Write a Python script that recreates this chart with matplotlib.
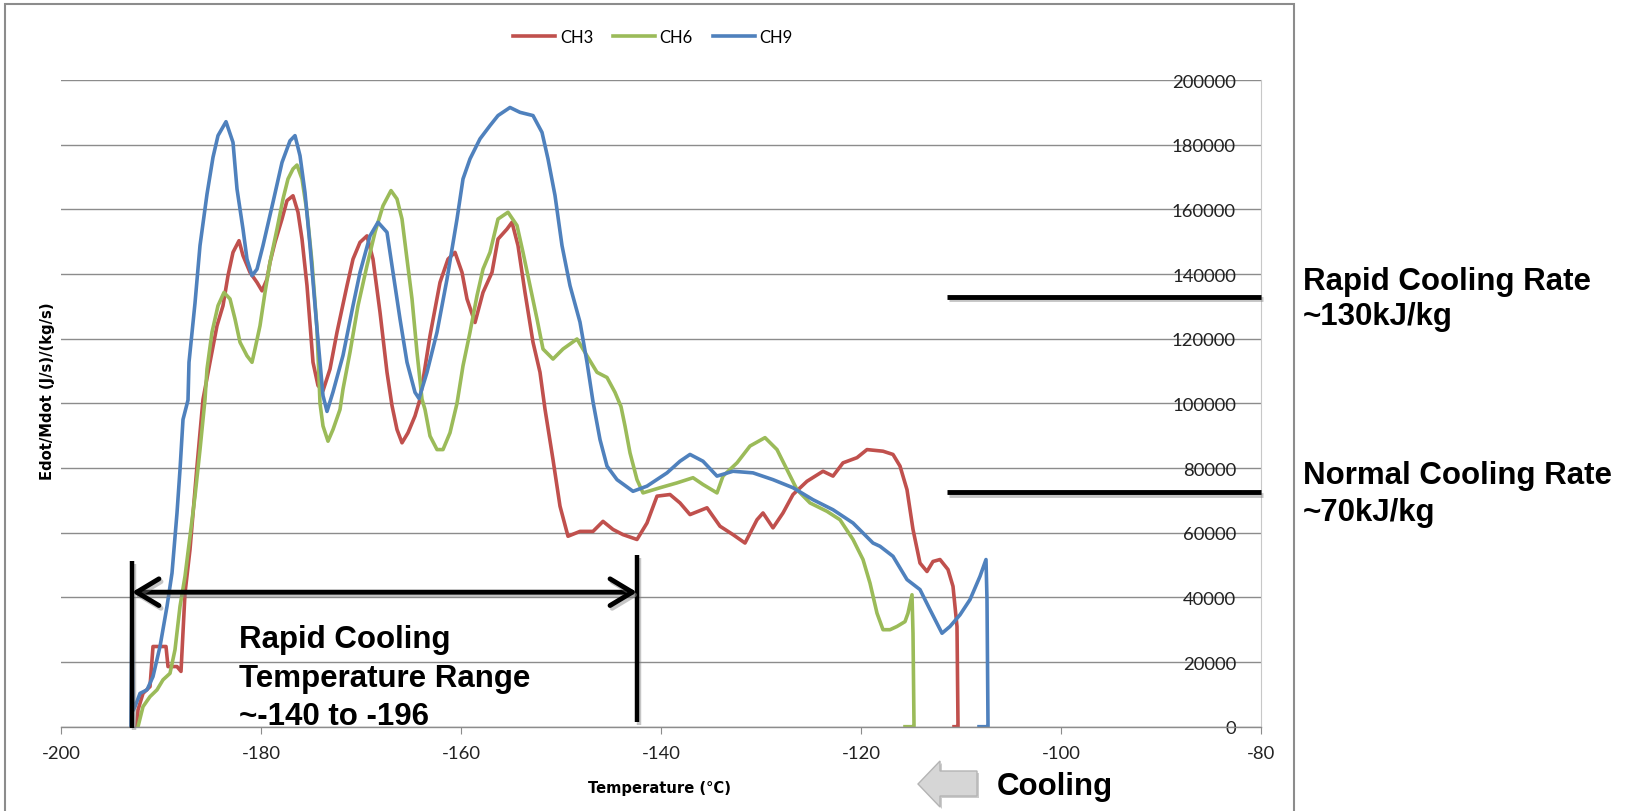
import matplotlib
matplotlib.use("Agg")
import matplotlib.pyplot as plt
from matplotlib.patches import Rectangle, Polygon
import matplotlib.patheffects as pe

plt.rcParams['font.family'] = ['Lato', 'DejaVu Sans']
plt.rcParams['axes.unicode_minus'] = False

# ---------------- data ----------------
ch3_t = [-192.4, -192.3, -191.8, -191.1, -190.8, -189.5, -189.3, -188.4, -188.0, -187.6,
         -187.1, -186.4, -185.8, -185.1, -184.4, -183.8, -183.3, -182.8, -182.2, -181.8,
         -181.1, -180.4, -179.9, -179.4, -179.1, -178.6, -177.9, -177.4, -176.8, -176.3,
         -175.9, -175.4, -174.8, -174.3, -173.8, -173.1, -172.4, -171.4, -170.8, -170.1,
         -169.4, -168.8, -168.1, -167.4, -166.9, -166.4, -165.9, -165.3, -164.6, -164.1,
         -163.1, -162.1, -161.3, -160.6, -159.9, -159.4, -158.6, -157.8, -156.9, -156.3,
         -155.4, -154.9, -154.3, -153.6, -152.8, -152.1, -151.6, -150.8, -150.1, -149.3,
         -148.1, -146.8, -145.8, -144.8, -143.8, -142.4, -141.4, -140.4, -139.1, -138.1,
         -137.1, -135.4, -134.1, -132.8, -131.6, -130.4, -129.8, -128.8, -127.8, -126.8,
         -125.4, -123.8, -122.8, -121.8, -120.4, -119.4, -117.8, -116.8, -116.1, -115.4,
         -114.8, -114.1, -113.4, -112.8, -112.1, -111.3, -110.8, -110.4, -110.3, -110.3,
         -110.7]
ch3_v = [0, 5200, 10300, 12400, 24800, 24800, 18600, 18600, 17100, 41300,
         54800, 80600, 101200, 112700, 124000, 130200, 139500, 146700, 150300, 145700,
         140500, 137400, 134800, 138400, 143600, 149800, 157000, 162700, 164200, 159100,
         150800, 136400, 112700, 105500, 103900, 110600, 122000, 136400, 144600, 149800,
         151800, 144600, 128200, 109600, 99300, 91900, 87800, 90900, 96100, 101300,
         120900, 137400, 144600, 146700, 140500, 132300, 125000, 134300, 140500, 150800,
         153900, 156000, 148800, 134300, 118900, 109600, 98200, 82600, 68200, 58900,
         60400, 60400, 63500, 61000, 59400, 57900, 63000, 71300, 71800, 69200,
         65600, 67700, 62000, 59400, 56800, 64000, 66100, 61500, 66100, 71800,
         75900, 79000, 77500, 81600, 83200, 85700, 85200, 84200, 80600, 73300,
         61000, 50600, 48000, 51100, 51700, 48600, 43400, 31000, 500, 0,
         0]

ch6_t = [-192.3, -191.8, -191.1, -190.4, -189.8, -189.1, -188.6, -188.1, -187.6, -187.1,
         -186.6, -186.1, -185.6, -185.4, -184.9, -184.3, -183.7, -183.1, -182.6, -182.1,
         -181.4, -180.9, -180.6, -180.1, -179.6, -179.1, -178.4, -177.8, -177.3, -176.8,
         -176.4, -175.9, -175.4, -174.9, -174.4, -174.1, -173.8, -173.3, -172.8, -172.1,
         -171.8, -171.1, -170.3, -169.4, -168.6, -167.8, -167.0, -166.4, -165.9, -165.4,
         -164.9, -164.4, -163.9, -163.6, -163.1, -162.4, -161.8, -161.1, -160.4, -159.8,
         -159.1, -158.4, -157.8, -157.1, -156.3, -155.3, -154.4, -153.8, -153.1, -152.4,
         -151.8, -150.8, -149.8, -148.4, -147.4, -146.4, -145.4, -144.6, -144.0, -143.6,
         -143.1, -142.4, -141.8, -140.1, -138.4, -136.8, -135.8, -134.4, -133.8, -132.4,
         -131.1, -129.6, -128.4, -127.4, -126.4, -125.1, -123.4, -122.1, -120.8, -119.8,
         -119.1, -118.4, -117.8, -117.1, -116.4, -115.6, -115.3, -114.9, -114.8, -114.7,
         -114.7, -115.6]
ch6_v = [0, 6200, 9300, 11400, 14500, 16500, 23800, 37200, 46500, 58900,
         71300, 85700, 101200, 110600, 122000, 130200, 134300, 132300, 126100, 118900,
         114700, 112700, 116800, 124000, 134300, 143600, 153900, 163200, 169400, 172500,
         173700, 169400, 159100, 143600, 123000, 100000, 93000, 88300, 91900, 98100,
         104400, 115800, 130200, 142600, 152900, 161100, 165800, 163200, 157000, 144600,
         132300, 115800, 101300, 98100, 89900, 85700, 85700, 90900, 100000, 111600,
         122000, 133300, 141500, 146700, 157000, 159100, 155000, 146700, 136400, 126100,
         116800, 113700, 116800, 119900, 114700, 109600, 108000, 103400, 99000, 93000,
         84700, 76400, 72300, 73900, 75400, 77000, 74900, 72300, 77500, 81600,
         86800, 89400, 85700, 79500, 73300, 69200, 66600, 64000, 57900, 51700,
         44400, 35100, 30000, 30000, 31000, 32500, 35100, 40800, 28900, 500,
         0, 0]

ch9_t = [-193.0, -192.9, -192.8, -192.6, -192.1, -191.4, -190.8, -190.1, -189.4, -188.9,
         -188.4, -188.1, -187.8, -187.3, -187.2, -186.6, -186.1, -185.4, -184.8, -184.3,
         -183.5, -182.8, -182.4, -181.8, -181.4, -180.9, -180.4, -179.8, -178.8, -177.9,
         -177.1, -176.6, -176.1, -175.6, -175.1, -174.4, -173.8, -173.4, -172.8, -171.8,
         -170.8, -170.1, -169.1, -168.3, -167.4, -166.8, -166.1, -165.4, -164.6, -164.2,
         -163.4, -162.4, -161.4, -160.4, -159.8, -159.1, -158.1, -157.1, -156.3, -155.1,
         -154.1, -152.8, -151.9, -151.3, -150.6, -149.9, -149.1, -148.1, -147.4, -146.8,
         -146.1, -145.4, -144.4, -142.8, -141.4, -139.4, -138.1, -137.1, -135.8, -134.4,
         -132.8, -130.8, -128.8, -126.8, -124.8, -122.8, -120.8, -118.8, -118.1, -116.8,
         -115.4, -114.1, -113.1, -111.9, -111.1, -110.1, -109.1, -108.1, -107.5, -107.4,
         -107.3, -107.3, -108.2]
ch9_v = [0, 40000, 5000, 6200, 10300, 11400, 15500, 24800, 37200, 47500,
         66100, 79500, 95000, 101000, 112700, 131000, 148800, 164700, 176100, 182800,
         187100, 180700, 166300, 153900, 144600, 139500, 141500, 148800, 162200, 174500,
         181200, 182800, 176600, 165200, 148800, 123000, 102400, 97500, 103500, 114800,
         130200, 140500, 151800, 156000, 152900, 140500, 126100, 112700, 103400, 101500,
         109600, 122000, 138400, 157000, 169400, 175600, 181800, 185900, 189000, 191500,
         190000, 189000, 183800, 175600, 164300, 148800, 136400, 125100, 112700, 100500,
         88800, 80600, 76400, 72800, 74400, 78500, 82100, 84200, 82100, 77500,
         79000, 78500, 76400, 73900, 70200, 67100, 63000, 56800, 55800, 52700,
         45500, 42400, 36200, 28900, 31000, 34600, 39300, 46500, 51700, 39300,
         500, 0, 0]

series_names = ["CH3", "CH6", "CH9"]
series_colors = ["#C0504D", "#9BBB59", "#4F81BD"]

x_ticks = [-200, -180, -160, -140, -120, -100, -80]
y_ticks = [0, 20000, 40000, 60000, 80000, 100000, 120000, 140000, 160000, 180000, 200000]

rapid_rate = 133000        # level of the "rapid cooling rate" marker line
normal_rate = 72600        # level of the "normal cooling rate" marker line
rate_line_start = -111.4   # where both rate marker lines start
range_low, range_high = -192.9, -142.4   # rapid cooling temperature range
range_arrow_level = 41600
range_bar_low = [51300, -300]
range_bar_high = [53100, 1400]

# ---------------- figure ----------------
W, H = 1625, 812
fig = plt.figure(figsize=(W / 100, H / 100), dpi=100)

def fx(px):
    return px / W

def fy(py):
    return 1 - py / H

ax = fig.add_axes([fx(61), fy(727.7), 1200 / W, 646.7 / H])
ax.set_xlim(-200, -80)
ax.set_ylim(0, 200000)

for name, col, t, v in zip(series_names, series_colors,
                           [ch3_t, ch6_t, ch9_t], [ch3_v, ch6_v, ch9_v]):
    ax.plot(t, v, color=col, lw=2.6, label=name, solid_joinstyle='round')

# axes styling (Excel-like: value axis crossing at the right end)
ax.spines['top'].set_visible(False)
ax.spines['right'].set_visible(False)
ax.spines['left'].set_position(('data', -80))
ax.spines['left'].set_color('#c8c8c8')
ax.spines['left'].set_linewidth(0.8)
ax.spines['bottom'].set_color('#8c8c8c')
ax.spines['bottom'].set_linewidth(1.0)

ax.set_xticks(x_ticks)
ax.set_xticklabels([str(t) for t in x_ticks])
ax.set_yticks(y_ticks)
ax.set_yticklabels([str(t) for t in y_ticks])
ax.tick_params(axis='x', direction='out', length=5, width=0.8, color='#8c8c8c',
               pad=8, labelsize=13.3, labelcolor='#222222')
ax.tick_params(axis='y', direction='out', length=0, pad=18,
               labelsize=13.3, labelcolor='#222222')
ax.yaxis.grid(True, color='#8c8c8c', lw=1.0)
ax.set_axisbelow(True)

# legend
ax.legend(loc='center', bbox_to_anchor=(fx(653), fy(38.3)), bbox_transform=fig.transFigure,
          ncol=3, frameon=False, prop={'family': 'Lato', 'size': 12},
          handlelength=2.5, handletextpad=0.3, columnspacing=1.2)

# axis titles
fig.text(fx(48), fy(391), "Edot/Mdot (J/s)/(kg/s)", rotation=90, ha='center', va='center',
         fontsize=10.6, fontweight='bold', family='DejaVu Sans')
fig.text(fx(660), fy(793), "Temperature (°C)", ha='center', va='baseline',
         fontsize=10.6, fontweight='bold', family='DejaVu Sans')

# annotation lines
shadow = [pe.SimpleLineShadow(offset=(1.5, -2), shadow_color='gray', alpha=0.45), pe.Normal()]
for level in (rapid_rate, normal_rate):
    ax.plot([rate_line_start, -80], [level, level], color='black', lw=3.5,
            solid_capstyle='butt', clip_on=False, path_effects=shadow, zorder=5)

ax.plot([range_low, range_low], range_bar_low, color='black', lw=3.2,
        solid_capstyle='butt', clip_on=False, path_effects=shadow, zorder=5)
ax.plot([range_high, range_high], range_bar_high, color='black', lw=3.2,
        solid_capstyle='butt', clip_on=False, path_effects=shadow, zorder=5)
ax.annotate('', xy=(range_low, range_arrow_level), xytext=(range_high, range_arrow_level),
            arrowprops=dict(arrowstyle='<->,head_length=0.5,head_width=0.3', lw=3.5,
                            color='black', mutation_scale=32, shrinkA=0, shrinkB=0,
                            path_effects=shadow),
            zorder=5)

# annotation texts
bold = dict(family=['Liberation Sans', 'DejaVu Sans'], fontweight='bold', fontsize=22.5,
            color='black', ha='left', va='baseline')
fig.text(fx(239), fy(648.3), "Rapid Cooling", **bold)
fig.text(fx(239), fy(687.5), "Temperature Range", **bold)
fig.text(fx(239), fy(725), "~-140 to -196", **bold)
fig.text(fx(1303), fy(290), "Rapid Cooling Rate", **bold)
fig.text(fx(1303), fy(325), "~130kJ/kg", **bold)
fig.text(fx(1303), fy(484), "Normal Cooling Rate", **bold)
fig.text(fx(1303), fy(521), "~70kJ/kg", **bold)
fig.text(fx(997), fy(795), "Cooling", **bold)

# grey "cooling" block arrow
arrow_px = [(918, 785), (940, 762), (940, 772), (977, 772), (977, 797), (940, 797), (940, 808)]
shadow_poly = Polygon([(fx(x + 2), fy(y + 2)) for x, y in arrow_px], closed=True,
                      transform=fig.transFigure, fc='#9a9a9a', ec='none', alpha=0.5)
fig.add_artist(shadow_poly)
fig.add_artist(Polygon([(fx(x), fy(y)) for x, y in arrow_px], closed=True,
                       transform=fig.transFigure, fc='#d6d6d6', ec='#b4b4b4', lw=1))

# chart border
fig.add_artist(Rectangle((fx(5), -0.05), (1294 - 5) / W, fy(5) + 0.05,
                         transform=fig.transFigure, fill=False, ec='#8c8c8c', lw=1.5))

fig.savefig("out.png", dpi=100)
